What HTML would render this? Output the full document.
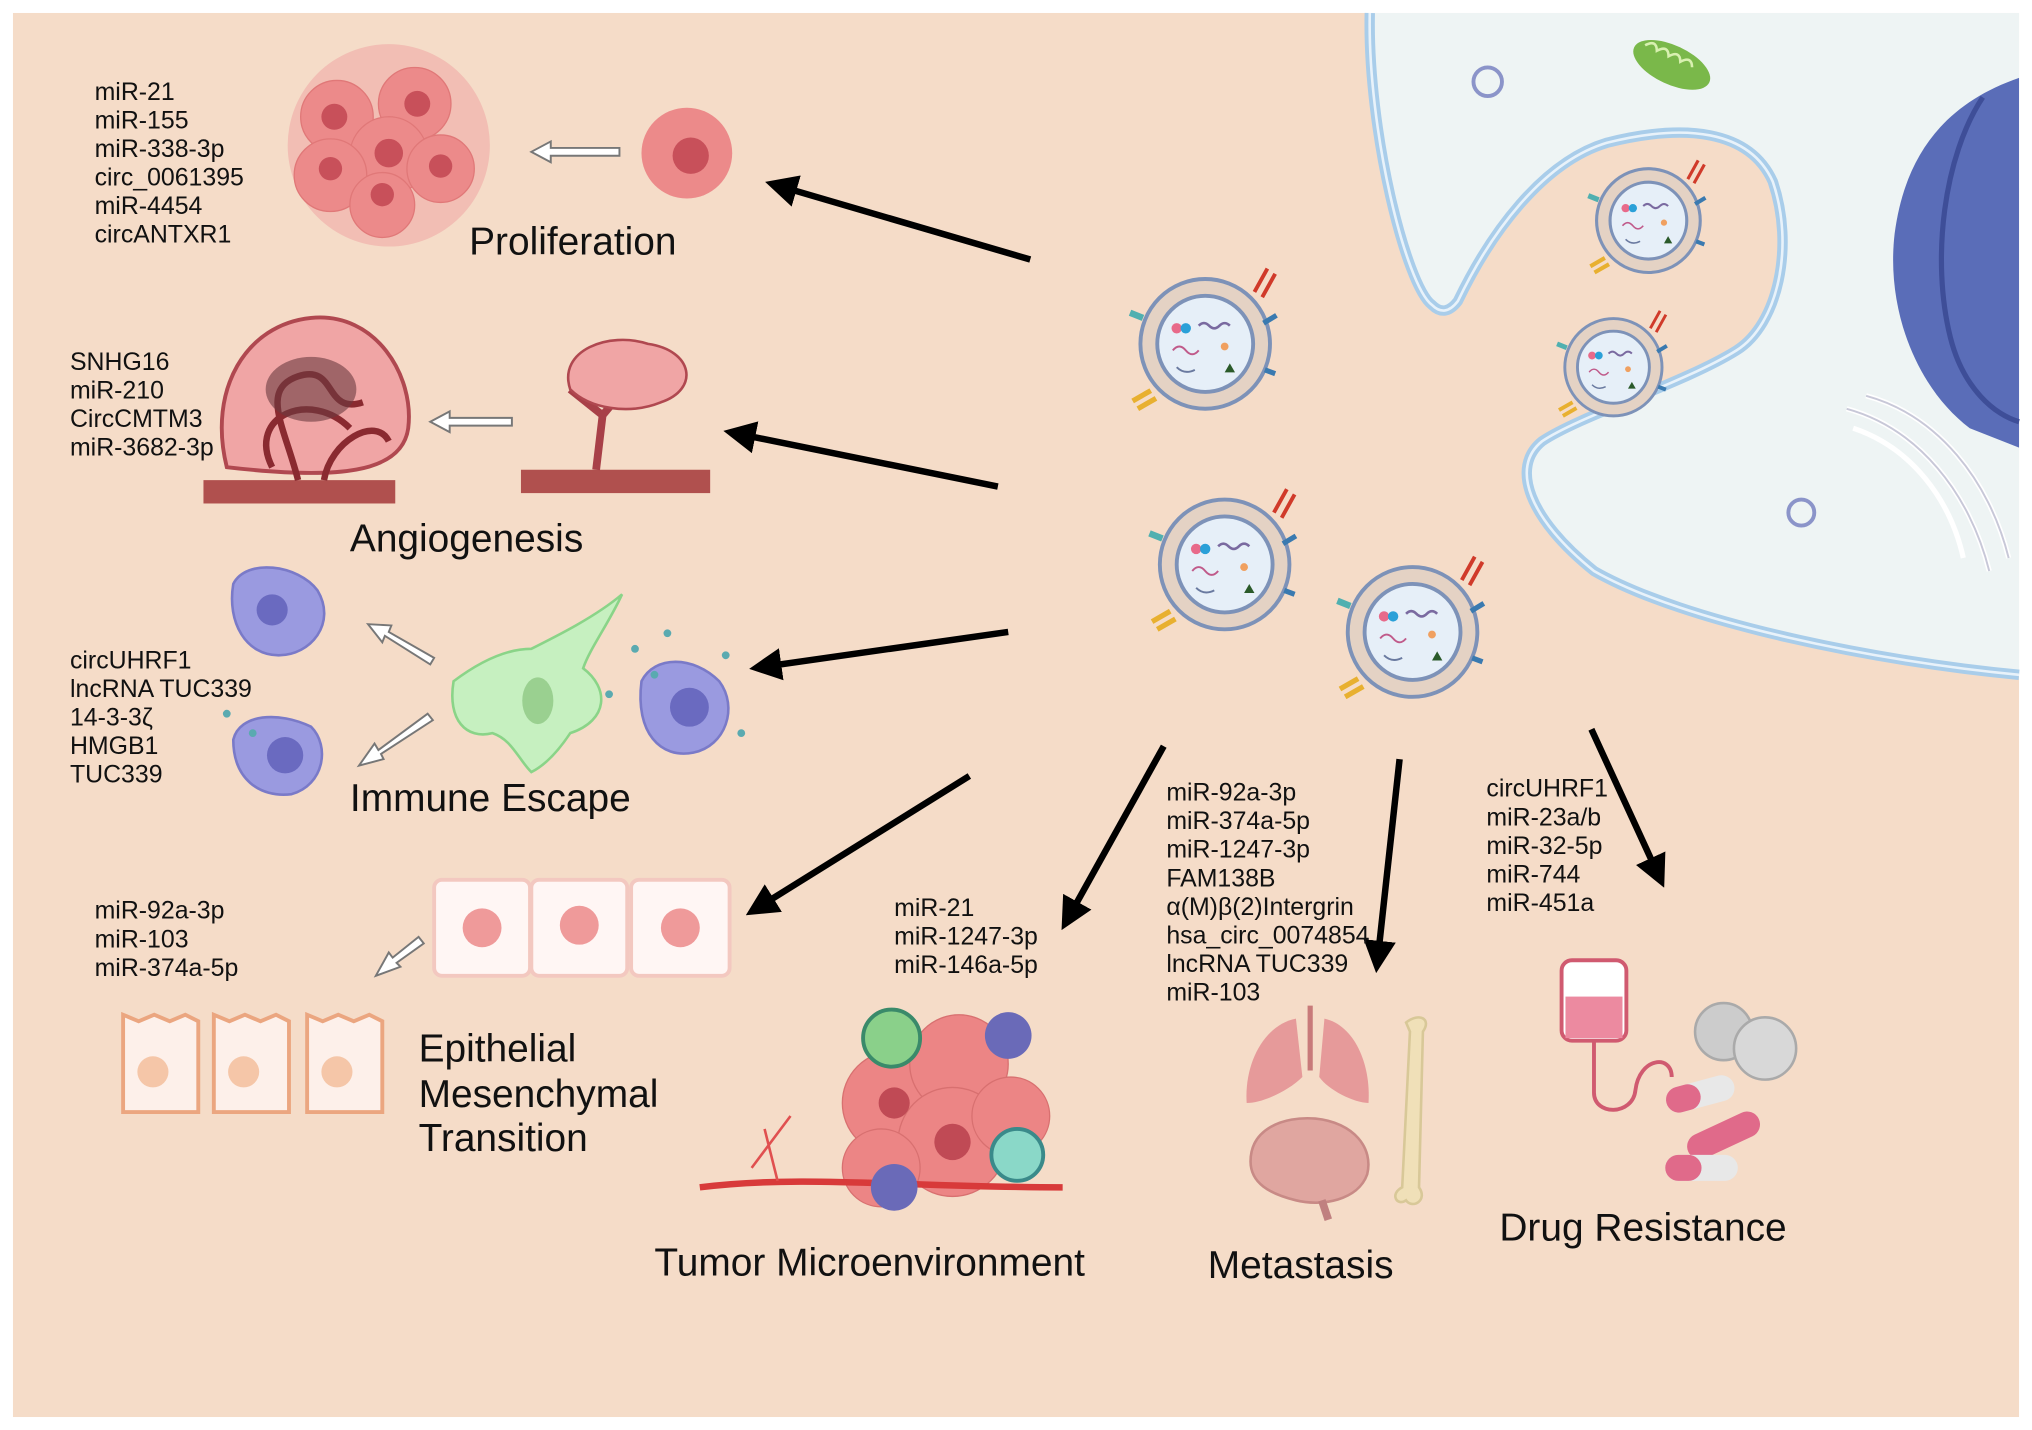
<!DOCTYPE html>
<html><head><meta charset="utf-8"><style>
html,body{margin:0;padding:0;background:#fff}
svg{display:block}
text{font-family:"Liberation Sans",sans-serif;fill:#111}
.l{font-size:19.2px}
.t{font-size:30px}
</style></head><body>
<svg width="2032" height="1430" viewBox="0 0 1568 1102" preserveAspectRatio="none" xmlns="http://www.w3.org/2000/svg">
<defs>
<marker id="ah" viewBox="0 0 10 10" refX="6" refY="5" markerWidth="5" markerHeight="5" orient="auto"><path d="M0,0 L10,5 L0,10 z" fill="#000"/></marker>
<g id="ves">
<circle r="50" fill="#e4d2c4" stroke="#7d92b8" stroke-width="3"/>
<circle r="37" fill="#e6eff8" stroke="#7d92b8" stroke-width="3"/>
<circle cx="-22" cy="-12" r="4" fill="#e86a8a"/><circle cx="-15" cy="-12" r="4" fill="#2aa0d8"/>
<path d="M-5,-14 q4,-4 8,0 q4,4 8,0 q4,-4 8,0" stroke="#7a6aa0" fill="none" stroke-width="2"/>
<path d="M-25,5 q5,-6 10,0 q5,6 10,0" stroke="#c05a8a" fill="none" stroke-width="1.5"/>
<path d="M-22,18 q6,6 14,2" stroke="#6a7aa0" fill="none" stroke-width="1.5"/>
<circle cx="15" cy="2" r="3" fill="#f0a060"/><path d="M15,22 l4,-7 4,7z" fill="#2a5a2a"/>
<path d="M38,-40 l10,-18 M44,-36 l10,-18" stroke="#d03a2a" stroke-width="3"/>
<path d="M-42,36 l-14,8 M-38,42 l-14,8" stroke="#e8b030" stroke-width="4"/>
<path d="M-48,-20 l-10,-4" stroke="#50b0b0" stroke-width="5"/>
<path d="M45,-16 l10,-6 M46,20 l8,3" stroke="#3a7ab0" stroke-width="4"/>
</g>
</defs>
<rect x="10" y="10" width="1548" height="1082" fill="#f5dcc8"/>
<path d="M1057,10 C1055,100 1085,220 1105,235 Q1115,245 1125,232 C1150,180 1190,125 1240,110 C1300,95 1350,100 1368,140 C1385,190 1372,250 1340,270 C1300,295 1220,320 1190,340 C1165,360 1180,400 1230,440 C1300,480 1450,510 1558,520 L1558,10 Z" fill="#eef4f4"/>
<path d="M1057,10 C1055,100 1085,220 1105,235 Q1115,245 1125,232 C1150,180 1190,125 1240,110 C1300,95 1350,100 1368,140 C1385,190 1372,250 1340,270 C1300,295 1220,320 1190,340 C1165,360 1180,400 1230,440 C1300,480 1450,510 1558,520" fill="none" stroke="#a9cdea" stroke-width="8"/>
<path d="M1057,10 C1055,100 1085,220 1105,235 Q1115,245 1125,232 C1150,180 1190,125 1240,110 C1300,95 1350,100 1368,140 C1385,190 1372,250 1340,270 C1300,295 1220,320 1190,340 C1165,360 1180,400 1230,440 C1300,480 1450,510 1558,520" fill="none" stroke="#e8f2fa" stroke-width="2"/>
<circle cx="1148" cy="63" r="11" fill="none" stroke="#8b94c9" stroke-width="3"/>
<circle cx="1390" cy="395" r="10" fill="none" stroke="#8b94c9" stroke-width="3"/>
<ellipse cx="1290" cy="50" rx="32" ry="15" transform="rotate(25 1290 50)" fill="#7ab84a"/>
<path d="M1265,45 q6,-8 10,0 q6,-8 10,0 q6,-8 10,0 q6,-8 10,0" stroke="#d8f0b0" fill="none" stroke-width="2" transform="rotate(25 1290 50)"/>
<path d="M1558,60 C1500,80 1470,120 1462,180 C1455,240 1480,300 1520,330 L1558,345 Z" fill="#5a6db8"/>
<path d="M1530,75 C1500,120 1490,200 1505,260 C1515,300 1540,320 1558,325" fill="none" stroke="#3e4e98" stroke-width="4"/>
<g fill="none" stroke="#fff" stroke-width="4">
<path d="M1425,315 C1480,330 1520,380 1535,440"/><path d="M1440,305 C1495,320 1535,370 1550,430"/><path d="M1430,330 C1475,345 1505,385 1515,430"/>
</g>
<g fill="none" stroke="#c8c8d8" stroke-width="1.5">
<path d="M1425,315 C1480,330 1520,380 1535,440"/><path d="M1440,305 C1495,320 1535,370 1550,430"/></g>
<use href="#ves" transform="translate(930,265)"/>
<use href="#ves" transform="translate(945,435)"/>
<use href="#ves" transform="translate(1090,487)"/>
<use href="#ves" transform="translate(1272,170) scale(0.8)"/>
<use href="#ves" transform="translate(1245,283) scale(0.75)"/>
<g stroke="#000" stroke-width="5" marker-end="url(#ah)" fill="none">
<line x1="795" y1="200" x2="600" y2="143"/>
<line x1="770" y1="375" x2="568" y2="334"/>
<line x1="778" y1="487" x2="588" y2="514"/>
<line x1="748" y1="598" x2="584" y2="700"/>
<line x1="898" y1="575" x2="824" y2="708"/>
<line x1="1080" y1="585" x2="1063" y2="740"/>
<line x1="1228" y1="562" x2="1280" y2="675"/>
</g>
<g fill="#fff" stroke="#777" stroke-width="1.5">
<path d="M478,114 L425,114 L425,109 L410,117 L425,125 L425,120 L478,120 Z"/>
<path d="M395,322 L347,322 L347,317 L332,325 L347,333 L347,328 L395,328 Z"/>
<path d="M335,507 L300,487 L302,482 L284,481 L295,495 L297,490 L332,512 Z" />
<path d="M330,550 L292,578 L289,573 L277,590 L296,585 L294,581 L334,555 Z"/>
<path d="M323,722 L303,738 L300,734 L290,752 L309,745 L306,742 L327,727 Z"/>
</g>
<g fill="#f0a0a0" opacity="0.5"><circle cx="300" cy="112" r="78"/></g>
<g fill="#ec8a8a" stroke="#e07878"><circle cx="260" cy="90" r="28"/><circle cx="320" cy="80" r="28"/><circle cx="300" cy="120" r="30"/><circle cx="255" cy="135" r="28"/><circle cx="340" cy="130" r="26"/><circle cx="295" cy="158" r="25"/></g>
<g fill="#c8505a"><circle cx="258" cy="90" r="10"/><circle cx="322" cy="80" r="10"/><circle cx="300" cy="118" r="11"/><circle cx="255" cy="130" r="9"/><circle cx="340" cy="128" r="9"/><circle cx="295" cy="150" r="9"/></g>
<circle cx="530" cy="118" r="35" fill="#ec8a8a"/><circle cx="533" cy="120" r="14" fill="#c8505a"/>
<rect x="157" y="370" width="148" height="18" fill="#b0504e"/>
<rect x="402" y="362" width="146" height="18" fill="#b0504e"/>
<path d="M175,360 C160,300 190,250 240,245 C290,240 320,290 315,330 C310,365 260,370 175,360Z" fill="#f0a5a5" stroke="#b04850" stroke-width="3"/>
<g stroke="#8a2a30" stroke-width="5" fill="none"><path d="M230,370 C220,330 200,300 230,290 C260,280 250,320 280,310"/><path d="M210,360 C190,320 240,300 270,330"/><path d="M250,370 C255,340 290,320 300,340"/></g>
<ellipse cx="240" cy="300" rx="35" ry="25" fill="#6a3a40" opacity="0.6"/>
<path d="M460,362 L465,320 M465,320 L440,300 M465,320 L490,290 M490,290 L510,300" stroke="#a84048" stroke-width="6" fill="none"/>
<path d="M440,300 C430,270 470,255 500,265 C535,270 540,300 510,310 C485,320 455,315 440,300Z" fill="#f0a5a5" stroke="#b04850" stroke-width="2"/>
<g fill="#9a9ae0" stroke="#7a7ac8" stroke-width="2">
<path d="M180,450 C190,430 230,435 245,455 C260,480 240,505 215,505 C190,505 175,480 180,450Z"/>
<path d="M180,570 C185,550 215,548 240,560 C255,575 250,605 225,612 C200,615 180,600 180,570Z"/>
<path d="M495,525 C505,505 535,505 555,525 C570,545 560,575 535,580 C510,585 490,565 495,525Z"/>
</g>
<g fill="#6a6ac0"><circle cx="210" cy="470" r="12"/><circle cx="220" cy="582" r="14"/><circle cx="532" cy="545" r="15"/></g>
<g fill="#5aaab0"><circle cx="490" cy="500" r="3"/><circle cx="515" cy="488" r="3"/><circle cx="560" cy="505" r="3"/><circle cx="470" cy="535" r="3"/><circle cx="505" cy="520" r="3"/><circle cx="175" cy="550" r="3"/><circle cx="195" cy="565" r="3"/><circle cx="572" cy="565" r="3"/></g>
<path d="M350,525 C370,510 390,500 410,500 C430,490 460,475 480,458 C470,480 455,500 450,515 C470,530 470,555 440,565 C430,580 420,590 410,595 C400,585 395,570 380,565 C360,570 345,555 350,525Z" fill="#c6f0c0" stroke="#8ad488" stroke-width="2"/>
<ellipse cx="415" cy="540" rx="12" ry="18" fill="#9ad090"/>
<g fill="#fff6f4" stroke="#f3c8c0" stroke-width="3">
<rect x="335" y="678" width="74" height="74" rx="6"/><rect x="410" y="678" width="74" height="74" rx="6"/><rect x="487" y="678" width="76" height="74" rx="6"/>
</g>
<g fill="#ef9a9a"><circle cx="372" cy="715" r="15"/><circle cx="447" cy="713" r="15"/><circle cx="525" cy="715" r="15"/></g>
<g fill="#fdf0ea" stroke="#eba680" stroke-width="3">
<path d="M95,782 l12,5 12,-5 12,5 12,-5 10,5 v70 h-58z"/><path d="M165,782 l12,5 12,-5 12,5 12,-5 10,5 v70 h-58z"/><path d="M237,782 l12,5 12,-5 12,5 12,-5 10,5 v70 h-58z"/>
</g>
<g fill="#f5c6a8"><circle cx="118" cy="826" r="12"/><circle cx="188" cy="826" r="12"/><circle cx="260" cy="826" r="12"/></g>
<g fill="#ec8585" stroke="#d87070"><circle cx="690" cy="850" r="40"/><circle cx="740" cy="820" r="38"/><circle cx="735" cy="880" r="42"/><circle cx="680" cy="900" r="30"/><circle cx="780" cy="860" r="30"/></g>
<g fill="#c04a55"><circle cx="690" cy="850" r="12"/><circle cx="735" cy="880" r="14"/></g>
<path d="M540,915 C620,905 700,915 820,915" stroke="#d83a3a" stroke-width="5" fill="none"/>
<path d="M580,900 l30,-40 M600,910 l-10,-40" stroke="#e05050" stroke-width="2" fill="none"/>
<circle cx="688" cy="800" r="22" fill="#8ad08a" stroke="#3a8a6a" stroke-width="3"/>
<circle cx="785" cy="890" r="20" fill="#8ad8c8" stroke="#3a8a8a" stroke-width="3"/>
<circle cx="778" cy="798" r="18" fill="#6a6ab8"/>
<circle cx="690" cy="915" r="18" fill="#6a6ab8"/>
<path d="M1000,785 C975,790 960,820 962,850 C975,850 995,840 1005,830 Z" fill="#e69a9a"/>
<path d="M1022,785 C1045,790 1058,820 1056,850 C1045,850 1025,840 1018,830 Z" fill="#e69a9a"/>
<path d="M1011,775 v50" stroke="#c87a7a" stroke-width="4"/>
<path d="M965,895 C965,870 990,860 1015,862 C1045,865 1060,885 1055,905 C1048,925 1020,930 1000,925 C980,920 965,912 965,895Z" fill="#e0a6a0" stroke="#c88a86" stroke-width="2"/>
<path d="M1020,925 l5,15" stroke="#c08080" stroke-width="6"/>
<path d="M1085,788 C1095,780 1105,785 1098,795 L1095,915 C1102,925 1090,932 1085,925 C1078,930 1072,920 1082,915 L1088,795Z" fill="#f0e0b8" stroke="#d8c898" stroke-width="2"/>
<rect x="1205" y="740" width="50" height="62" rx="8" fill="#fff" stroke="#d05a70" stroke-width="3"/>
<rect x="1208" y="768" width="44" height="32" fill="#ec8aa0"/>
<path d="M1230,802 v40 C1230,860 1260,860 1262,840 C1265,815 1290,812 1290,830" stroke="#d05a70" stroke-width="3" fill="none"/>
<circle cx="1330" cy="795" r="22" fill="#ccc" stroke="#aaa" stroke-width="2"/>
<circle cx="1362" cy="808" r="24" fill="#d8d8d8" stroke="#aaa" stroke-width="2"/>
<g transform="rotate(-15 1312 843)"><rect x="1285" y="833" width="54" height="20" rx="10" fill="#e8e8e8"/><rect x="1285" y="833" width="27" height="20" rx="10" fill="#e06a8a"/></g>
<g transform="rotate(-25 1330 875)"><rect x="1300" y="865" width="60" height="20" rx="10" fill="#e06a8a"/></g>
<g><rect x="1285" y="890" width="56" height="20" rx="10" fill="#e8e8e8"/><rect x="1285" y="890" width="28" height="20" rx="10" fill="#e06a8a"/></g>
<g>
<text x="73" y="77" class="l">miR-21</text><text x="73" y="99" class="l">miR-155</text><text x="73" y="121" class="l">miR-338-3p</text><text x="73" y="143" class="l">circ_0061395</text><text x="73" y="165" class="l">miR-4454</text><text x="73" y="187" class="l">circANTXR1</text>
<text x="54" y="285" class="l">SNHG16</text><text x="54" y="307" class="l">miR-210</text><text x="54" y="329" class="l">CircCMTM3</text><text x="54" y="351" class="l">miR-3682-3p</text>
<text x="54" y="515" class="l">circUHRF1</text><text x="54" y="537" class="l">lncRNA TUC339</text><text x="54" y="559" class="l">14-3-3ζ</text><text x="54" y="581" class="l">HMGB1</text><text x="54" y="603" class="l">TUC339</text>
<text x="73" y="708" class="l">miR-92a-3p</text><text x="73" y="730" class="l">miR-103</text><text x="73" y="752" class="l">miR-374a-5p</text>
<text x="690" y="706" class="l">miR-21</text><text x="690" y="728" class="l">miR-1247-3p</text><text x="690" y="750" class="l">miR-146a-5p</text>
<text x="900" y="617" class="l">miR-92a-3p</text><text x="900" y="639" class="l">miR-374a-5p</text><text x="900" y="661" class="l">miR-1247-3p</text><text x="900" y="683" class="l">FAM138B</text><text x="900" y="705" class="l">α(M)β(2)Intergrin</text><text x="900" y="727" class="l">hsa_circ_0074854</text><text x="900" y="749" class="l">lncRNA TUC339</text><text x="900" y="771" class="l">miR-103</text>
<text x="1147" y="614" class="l">circUHRF1</text><text x="1147" y="636" class="l">miR-23a/b</text><text x="1147" y="658" class="l">miR-32-5p</text><text x="1147" y="680" class="l">miR-744</text><text x="1147" y="702" class="l">miR-451a</text>
</g>
<text x="362" y="196" class="t">Proliferation</text>
<text x="270" y="425" class="t">Angiogenesis</text>
<text x="270" y="625" class="t">Immune Escape</text>
<text x="323" y="818" class="t">Epithelial</text>
<text x="323" y="853" class="t">Mesenchymal</text>
<text x="323" y="887" class="t">Transition</text>
<text x="505" y="983" class="t">Tumor Microenvironment</text>
<text x="932" y="985" class="t">Metastasis</text>
<text x="1157" y="956" class="t">Drug Resistance</text>
</svg>
</body></html>
